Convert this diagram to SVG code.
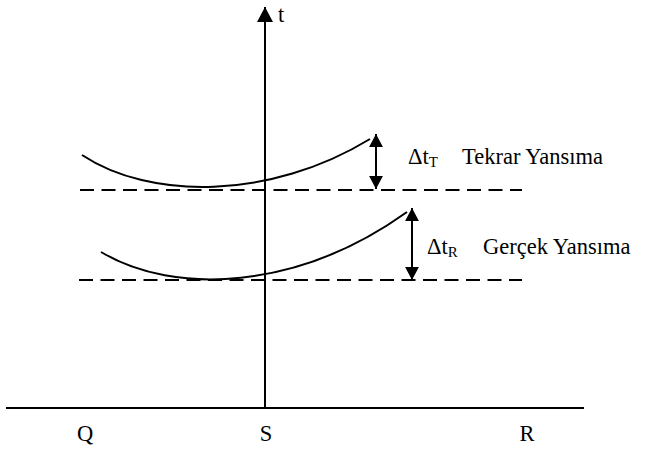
<svg xmlns="http://www.w3.org/2000/svg" width="646" height="452" viewBox="0 0 646 452">
<defs>
<marker id="ah" markerWidth="16" markerHeight="16" viewBox="0 0 16 16" refX="15" refY="8" orient="auto" markerUnits="userSpaceOnUse">
<path d="M0,0 L15,8 L0,16 Z" fill="#000"/>
</marker>
<marker id="ahs" markerWidth="14" markerHeight="14" viewBox="0 0 16 16" refX="15" refY="8" orient="auto-start-reverse" markerUnits="userSpaceOnUse">
<path d="M0,0 L15,8 L0,16 Z" fill="#000"/>
</marker>
</defs>
<style>
.ln{stroke:#000;stroke-width:2;fill:none}
.ds{stroke:#000;stroke-width:2;fill:none;stroke-dasharray:14 7.5}
.tx{font-family:"Liberation Serif","Times New Roman",serif;font-size:22.5px;fill:#000}
.sb{font-size:15px}
</style>
<rect width="646" height="452" fill="#fff"/>
<g id="axes">
<line class="ln" x1="6" y1="408" x2="584" y2="408"/>
<line class="ln" x1="265" y1="408" x2="265" y2="7" marker-end="url(#ah)"/>
</g>
<g id="connectors">
<line class="ds" x1="80" y1="190" x2="522" y2="190"/>
<line class="ds" x1="79" y1="280" x2="522" y2="280"/>
<path class="ln" d="M82,155 C150,200 270,200 370,139"/>
<path class="ln" d="M101,252 C175,296 298,290 407,212"/>
<line class="ln" x1="376" y1="134" x2="376" y2="189" marker-start="url(#ahs)" marker-end="url(#ahs)"/>
<line class="ln" x1="412" y1="208" x2="412" y2="280" marker-start="url(#ahs)" marker-end="url(#ahs)"/>
</g>
<g id="labels">
<text class="tx" x="278" y="22">t</text>
<text class="tx" x="408" y="164">Δt<tspan class="sb" dy="3">T</tspan></text>
<text class="tx" x="462" y="164">Tekrar Yansıma</text>
<text class="tx" x="427" y="254">Δt<tspan class="sb" dy="3">R</tspan></text>
<text class="tx" x="483" y="254">Gerçek Yansıma</text>
<text class="tx" x="85" y="441" text-anchor="middle">Q</text>
<text class="tx" x="266" y="441" text-anchor="middle">S</text>
<text class="tx" x="527" y="441" text-anchor="middle">R</text>
</g>
</svg>
